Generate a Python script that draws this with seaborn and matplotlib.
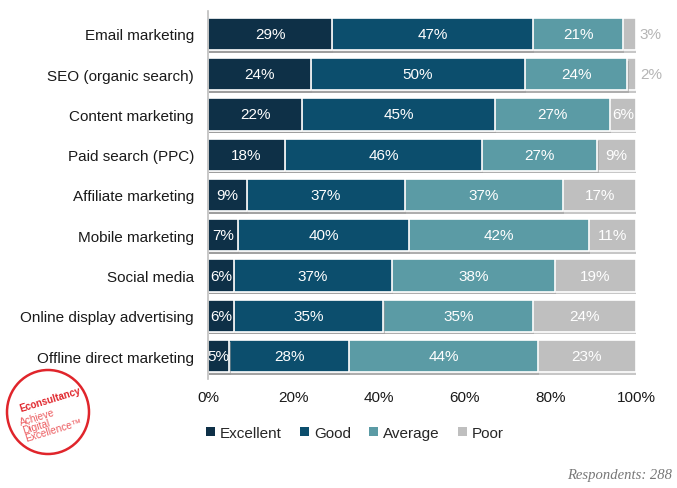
import matplotlib
matplotlib.use("Agg")
import matplotlib.pyplot as plt
import matplotlib.patheffects as pe
from matplotlib.patches import Patch, Ellipse
import seaborn as sns
import pandas as pd
import numpy as np

categories = ["Email marketing", "SEO (organic search)", "Content marketing",
              "Paid search (PPC)", "Affiliate marketing", "Mobile marketing",
              "Social media", "Online display advertising", "Offline direct marketing"]
excellent = [29, 24, 22, 18, 9, 7, 6, 6, 5]
good = [47, 50, 45, 46, 37, 40, 37, 35, 28]
average = [21, 24, 27, 27, 37, 42, 38, 35, 44]
poor = [3, 2, 6, 9, 17, 11, 19, 24, 23]
series_names = ["Excellent", "Good", "Average", "Poor"]
xtick_values = [0, 20, 40, 60, 80, 100]
xtick_labels = ["0%", "20%", "40%", "60%", "80%", "100%"]

colors = ["#0e3047", "#0c4e6d", "#5b9ba5", "#bfbfbf"]

sns.set_theme(style="white")
plt.rcParams["font.family"] = ["Liberation Sans", "DejaVu Sans"]

series = [excellent, good, average, poor]
cum = np.cumsum(np.array(series), axis=0)  # cumulative right edges

fig = plt.figure(figsize=(6.77, 4.89), dpi=100)
ax = fig.add_axes([208/677, 1-380/489, (636-208)/677, (380-12)/489])

shadow = [pe.SimplePatchShadow(offset=(0.8, -1.8), shadow_rgbFace="#9a9a9a", alpha=0.55), pe.Normal()]

# draw from the largest cumulative to the smallest so segments stack
for i in range(3, -1, -1):
    df = pd.DataFrame({"cat": categories, "val": cum[i]})
    sns.barplot(data=df, y="cat", x="val", order=categories, orient="h",
                color=colors[i], saturation=1, width=0.8, ax=ax,
                edgecolor="white", linewidth=1.2)
for p in ax.patches:
    p.set_path_effects(shadow)

# labels
for i in range(4):
    for j, cat in enumerate(categories):
        v = series[i][j]
        left = cum[i][j] - v
        if i == 3 and v < 5:
            ax.text(cum[i][j] + 0.9, j, f"{v}%", ha="left", va="center",
                    color="#b5b5b5", fontsize=11)
        else:
            ax.text(left + v / 2, j, f"{v}%", ha="center", va="center",
                    color="white", fontsize=11)

ax.set_xlim(0, 100)
ax.set_ylim(8.57, -0.57)
ax.set_xticks(xtick_values)
ax.set_xticklabels(xtick_labels)
ax.set_xlabel("")
ax.set_ylabel("")
ax.tick_params(axis="both", length=0, labelsize=11, colors="#1a1a1a")
ax.tick_params(axis="x", pad=8)
ax.tick_params(axis="y", pad=10)
for s in ["top", "right", "bottom"]:
    ax.spines[s].set_visible(False)
ax.spines["left"].set_color("#bdbdbd")
ax.spines["left"].set_linewidth(1.2)

handles = [Patch(facecolor=c, edgecolor="none", label=n) for c, n in zip(colors, series_names)]
fig.legend(handles=handles, loc="center", bbox_to_anchor=(355/677, 1-434/489), ncol=4,
           frameon=False, fontsize=11, handlelength=0.6, handleheight=0.6,
           handletextpad=0.3, columnspacing=1.2)

# logo
fig.patches.append(Ellipse((48/677, 1-413/489), 82/677, 84/489, transform=fig.transFigure,
                           facecolor="white", edgecolor="#e0252b", linewidth=1.8))
fig.text(50/677, 1-400/489, "Econsultancy", transform=fig.transFigure, rotation=17,
         ha="center", va="center", color="#e0252b", fontsize=7, fontweight="bold",
         rotation_mode="anchor")
fig.text(19/677, 1-418/489, "Achieve\nDigital\nExcellence\u2122", transform=fig.transFigure,
         rotation=17, ha="left", va="top", color="#ec5a5e", fontsize=7.3,
         linespacing=0.82, rotation_mode="anchor", multialignment="left")

fig.text(672/677, 1-476/489, "Respondents: 288", ha="right", va="center",
         fontsize=10.5, style="italic", color="#777777", family="Liberation Serif")

fig.savefig("out.png", dpi=100)
